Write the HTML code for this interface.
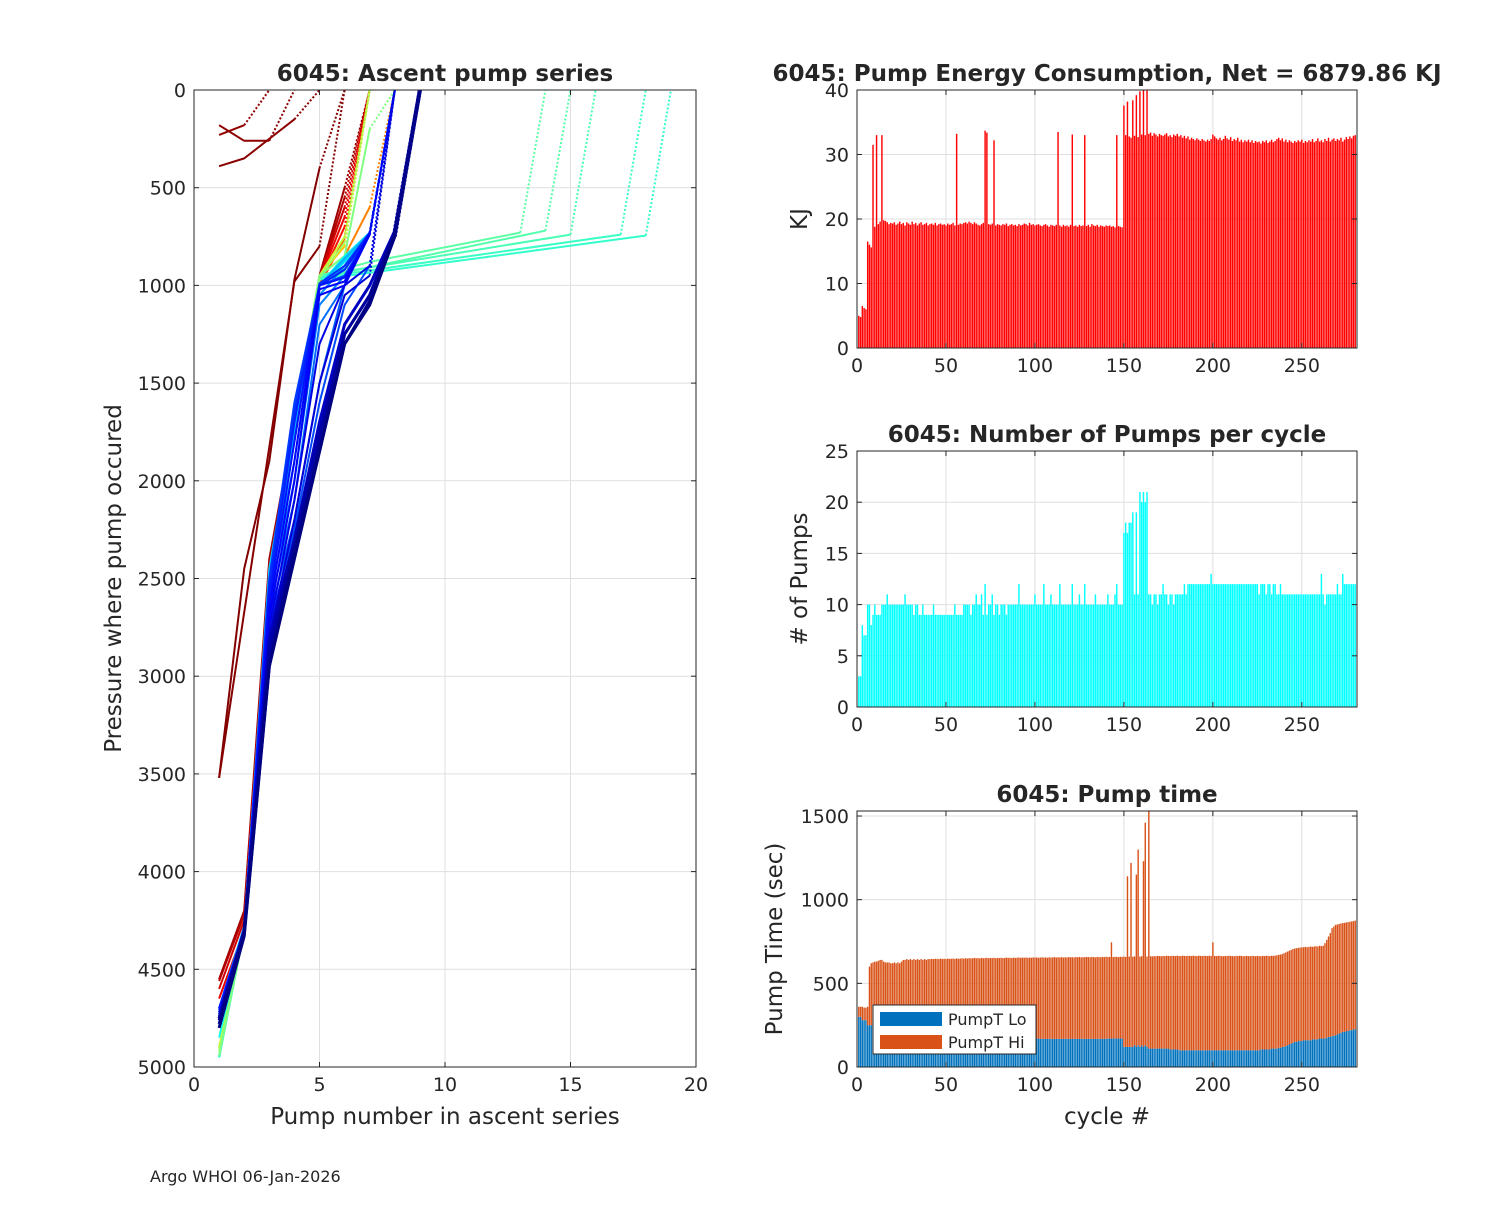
<!DOCTYPE html>
<html><head><meta charset="utf-8"><style>
body{margin:0;background:#fff;}
svg text{font-family:"DejaVu Sans","Liberation Sans",sans-serif;fill:#262626;}
</style></head><body>
<svg id="fig" width="1500" height="1200" viewBox="0 0 1500 1200" xmlns="http://www.w3.org/2000/svg">
<rect width="1500" height="1200" fill="#fff"/>
<text x="150" y="1182" font-size="16">Argo WHOI 06-Jan-2026</text>
</svg>
<script>
// ---------- data ----------
const energyKJ=[5,4.8,6.5,6.2,6,16.5,16,15.6,31.5,18.8,33,19.2,19.6,33,19.8,19.7,19.5,19.2,19.4,19.3,
19.5,19.1,19.3,19.6,19.2,19.4,19.0,19.5,19.3,19.1,19.6,19.2,19.4,19.0,19.3,19.5,19.1,19.2,19.4,19.0,
19.2,19.3,19.1,19.4,19.0,19.2,19.3,19.1,19.2,19.0,19.3,19.1,19.2,19.4,19.0,33.2,19.1,19.3,19.2,19.4,
19.5,19.3,19.6,19.4,19.2,19.5,19.3,19.1,19.0,19.2,19.4,33.7,33.4,19.2,19.1,19.3,32.2,19.0,19.2,19.1,
19.0,19.2,19.1,19.3,18.9,19.1,19.2,19.0,19.1,18.9,19.2,19.0,19.1,19.3,19.2,19.0,19.4,19.1,19.2,19.0,
19.1,19.2,19.0,18.9,19.1,19.2,19.0,18.8,19.1,19.0,18.9,19.1,33.5,19.0,18.8,19.1,18.9,19.0,18.8,19.1,
33.1,18.9,19.0,18.8,19.1,18.9,19.0,33.0,18.9,19.1,18.8,19.2,19.0,18.9,19.1,18.8,19.0,18.9,18.8,19.0,
18.9,19.0,18.8,18.9,18.7,33.0,18.9,18.8,18.7,37.6,33.0,38.2,32.8,32.6,38.4,32.9,39.2,32.7,39.8,33.1,
40,33.0,40,33.2,33.4,32.9,33.3,33.1,32.8,33.2,33.0,32.9,33.1,33.3,32.8,33.0,32.7,33.1,32.9,33.2,
32.8,33.0,32.6,32.9,32.5,32.8,32.3,32.6,32.4,32.2,32.5,32.3,32.1,32.4,32.2,32.0,32.3,32.1,32.4,33.1,
32.8,32.5,32.3,32.6,32.2,32.4,32.9,32.5,32.3,32.7,32.1,32.4,32.2,32.6,32.0,32.3,31.9,32.2,32.0,32.3,
31.9,32.2,31.8,32.1,31.9,32.0,31.7,32.1,31.9,32.2,31.8,32.0,32.3,31.9,32.1,32.4,32.6,32.2,32.5,32.0,
32.3,31.9,32.2,32.0,31.8,32.1,31.9,32.2,32.0,32.3,31.8,32.1,31.9,32.2,32.0,32.4,31.9,32.1,32.5,32.0,
32.2,31.9,32.4,32.1,32.6,32.0,32.3,32.5,32.1,32.4,32.2,32.6,32.0,32.3,32.7,32.4,32.8,32.5,32.9,33.0];
const pumpCount=[3,3,8,7,7,10,10,8,9,10,9,9,9,10,10,10,11,10,10,10,
10,10,10,10,10,10,11,10,10,10,10,9,10,10,9,9,10,9,9,9,
9,9,10,9,9,9,9,9,9,9,9,9,9,9,10,9,9,9,9,10,
10,10,10,9,10,10,11,10,10,11,9,12,9,10,10,11,9,10,10,9,
10,10,10,9,10,10,10,10,10,10,12,10,10,10,10,10,10,10,10,11,
10,10,10,10,12,10,10,10,11,10,10,10,10,12,10,10,10,10,10,10,
12,10,10,10,11,10,10,12,10,10,10,10,10,11,10,10,10,10,10,10,
11,10,10,10,11,12,10,10,10,17,18,17,18,18,19,11,19,11,21,20,
21,20,21,11,11,10,11,11,10,11,11,12,11,11,10,11,11,10,11,11,
11,11,11,12,11,12,12,12,12,12,12,12,12,12,12,12,12,12,13,12,
12,12,12,12,12,12,12,12,12,12,12,12,12,12,12,12,12,12,12,12,
12,12,12,12,12,11,12,12,12,11,12,12,11,12,12,11,11,12,11,11,
11,11,11,11,11,11,11,11,11,11,11,11,11,11,11,11,11,11,11,11,
13,11,10,11,11,11,11,11,11,12,11,11,13,12,12,12,12,12,12,12];
const pumpTimeLo=[300,300,280,280,280,250,250,250,250,240,240,240,240,240,240,240,235,235,235,235,
235,230,230,230,230,230,225,225,225,225,225,220,220,220,220,220,215,215,215,215,
215,210,210,210,210,210,205,205,205,205,200,200,200,200,200,200,195,195,195,195,
195,190,190,190,190,190,185,185,185,185,185,180,180,180,180,180,180,175,175,175,
175,175,175,175,175,175,172,172,172,172,172,170,170,170,170,170,170,170,170,170,
170,170,168,168,168,168,168,168,168,168,168,168,168,168,168,168,168,168,168,168,
168,168,168,168,168,168,168,168,168,168,168,168,168,168,168,168,168,168,168,168,
170,170,170,170,170,170,170,170,170,120,120,120,120,120,120,130,120,130,120,130,
120,130,120,110,110,110,110,110,110,110,110,110,110,110,110,105,105,105,105,105,
100,100,100,100,100,100,100,100,100,100,100,100,100,100,100,100,100,100,100,100,
100,100,100,100,100,100,100,100,100,100,100,100,100,100,100,100,100,100,100,100,
100,100,100,100,100,100,105,105,105,105,105,105,110,110,110,110,115,115,120,120,
125,130,135,140,145,150,150,155,155,155,160,160,160,160,160,165,165,165,165,170,
170,170,170,175,180,180,185,185,190,195,200,205,210,210,215,215,220,220,225,225];
const pumpTimeTotal=[360,360,360,355,355,360,600,620,625,630,630,635,640,640,630,625,625,625,620,620,
625,620,625,620,630,640,640,645,640,645,640,645,640,645,640,645,640,645,640,645,
645,646,645,647,646,645,648,646,647,645,648,646,647,648,646,649,647,648,650,648,
650,648,651,649,650,652,650,651,649,652,650,651,653,650,652,651,653,650,652,651,
653,651,652,654,652,653,651,654,652,653,655,652,654,653,655,652,654,653,655,654,
655,653,654,656,654,655,653,656,654,655,657,654,656,655,657,654,656,655,657,656,
656,655,657,656,658,655,657,656,658,657,656,658,657,655,658,657,656,658,657,659,
657,658,745,657,659,658,657,659,658,660,658,1140,660,1220,659,661,1150,1300,660,662,
1230,1460,660,1530,662,661,663,662,664,663,662,664,663,665,664,663,665,664,663,665,
664,663,665,664,663,665,664,663,665,664,663,665,664,663,665,664,663,665,664,745,
664,663,665,664,663,662,664,663,665,664,663,662,664,663,665,664,662,663,664,663,
662,664,663,662,664,663,662,664,663,665,664,663,665,664,666,668,670,672,675,680,
685,690,695,700,705,708,710,712,714,715,716,718,716,718,720,718,720,722,720,725,
722,725,740,760,780,800,830,840,850,852,855,858,860,862,864,866,868,870,872,875];
// ascent pump series: cycle numbers and [pump#, pressure] profiles (last segment dotted to surface)
const profileCycles=[1,2,3,4,5,8,15,22,30,40,55,70,90,150,152,155,159,161,120,130,140,170,180,190,195,200,205,210,215,220,225,228,232,236,240,244,248,252,256,262,268,272,276,280];
const profilePoints=[
[[1,3520],[2,2450],[3,1900],[4,970],[5,400],[6,0]],
[[1,3520],[4,980],[5,800],[6,0]],
[[1,390],[2,350],[4,150],[5,0]],
[[1,180],[2,260],[3,260],[4,0]],
[[1,230],[2,180],[3,0]],
[[1,4550],[2,4200],[3,2400],[4,1700],[5,950],[6,500],[7,0]],
[[1,4560],[2,4220],[3,2420],[4,1720],[5,960],[6,550],[7,0]],
[[1,4600],[2,4250],[3,2450],[4,1750],[5,960],[6,600],[7,0]],
[[1,4650],[2,4300],[3,2500],[4,1750],[5,970],[6,650],[7,0]],
[[1,4700],[2,4300],[3,2500],[4,1750],[5,980],[6,700],[7,0]],
[[1,4800],[2,4300],[3,2550],[4,1800],[5,1000],[6,760],[7,0]],
[[1,4900],[2,4300],[3,2500],[4,1700],[5,950],[6,850],[7,600],[8,0]],
[[1,4950],[2,4300],[3,2500],[4,1700],[5,950],[6,800],[7,0]],
[[1,4950],[2,4300],[3,2500],[4,1700],[5,950],[7,880],[13,730],[14,0]],
[[1,4950],[2,4300],[3,2500],[4,1700],[5,960],[14,720],[15,0]],
[[1,4950],[2,4300],[3,2500],[4,1700],[5,950],[15,740],[16,0]],
[[1,4950],[2,4300],[3,2500],[4,1700],[5,960],[17,740],[18,0]],
[[1,4950],[2,4300],[3,2500],[4,1700],[5,970],[18,745],[19,0]],
[[1,4900],[2,4300],[3,2500],[4,1700],[5,950],[6,750],[7,0]],
[[1,4920],[2,4300],[3,2500],[4,1700],[5,960],[6,780],[7,0]],
[[1,4940],[2,4300],[3,2500],[4,1700],[5,950],[6,850],[7,200],[8,0]],
[[1,4850],[2,4300],[3,2500],[4,1700],[5,1000],[6,850],[7,730],[8,0]],
[[1,4800],[2,4300],[3,2500],[4,1700],[5,1000],[6,880],[7,740],[8,0]],
[[1,4750],[2,4300],[3,2450],[4,1700],[5,1000],[6,870],[7,730],[8,0]],
[[1,4700],[2,4300],[3,2500],[4,1750],[5,1000],[6,860],[7,730],[8,0]],
[[1,4700],[2,4280],[3,2500],[4,1800],[5,1000],[6,900],[7,740],[8,0]],
[[1,4700],[2,4300],[3,2550],[4,1900],[5,1050],[6,900],[7,730],[8,0]],
[[1,4720],[2,4300],[3,2600],[4,2000],[5,1100],[6,950],[7,730],[8,0]],
[[1,4720],[2,4300],[3,2650],[4,2100],[5,1200],[6,1000],[7,740],[8,0]],
[[1,4730],[2,4300],[3,2700],[4,2200],[5,1500],[6,1000],[7,730],[8,0]],
[[1,4740],[2,4300],[3,2750],[4,2250],[5,1600],[6,1100],[7,900],[8,0]],
[[1,4700],[2,4300],[3,2500],[4,1600],[5,1000],[6,950],[7,740],[8,0]],
[[1,4710],[2,4310],[3,2520],[4,1650],[5,990],[6,900],[7,730],[8,0]],
[[1,4720],[2,4300],[3,2560],[4,1700],[5,1000],[6,920],[7,735],[8,0]],
[[1,4700],[2,4300],[3,2600],[4,1800],[5,1000],[6,960],[7,740],[8,0]],
[[1,4730],[2,4290],[3,2650],[4,1900],[5,1020],[6,980],[7,730],[8,0]],
[[1,4740],[2,4300],[3,2700],[4,2000],[5,1050],[6,1000],[7,740],[8,0]],
[[1,4750],[2,4300],[3,2750],[4,2100],[5,1300],[6,1000],[7,900],[8,0]],
[[1,4750],[2,4300],[3,2800],[4,2200],[5,1500],[6,1050],[7,950],[8,0]],
[[1,4750],[2,4300],[3,2800],[4,2300],[5,1700],[6,1200],[7,1000],[8,720],[9,0]],
[[1,4750],[2,4300],[3,2850],[4,2300],[5,1750],[6,1250],[7,1050],[8,720],[9,0]],
[[1,4760],[2,4300],[3,2900],[4,2350],[5,1800],[6,1250],[7,1050],[8,730],[9,0]],
[[1,4780],[2,4320],[3,2950],[4,2350],[5,1850],[6,1300],[7,1080],[8,740],[9,0]],
[[1,4800],[2,4330],[3,2950],[4,2400],[5,1850],[6,1300],[7,1100],[8,750],[9,0]]];
const leftXTicks=[0,5,10,15,20], leftYTicks=[0,500,1000,1500,2000,2500,3000,3500,4000,4500,5000];
const cycleTicks=[0,50,100,150,200,250];
const energyTicks=[0,10,20,30,40], pumpTicks=[0,5,10,15,20,25], timeTicks=[0,500,1000,1500];

// ---------- helpers ----------
const svg=document.getElementById('fig');
const NS='http://www.w3.org/2000/svg';
function mk(tag,attrs,parent){const e=document.createElementNS(NS,tag);for(const k in attrs)e.setAttribute(k,attrs[k]);(parent||svg).appendChild(e);return e;}
function txt(s,x,y,size,anchor,parent,extra){const t=mk('text',Object.assign({x:x,y:y,'font-size':size,'text-anchor':anchor||'middle'},extra||{}),parent);t.textContent=s;return t;}
function jet(v){const r=Math.max(0,Math.min(1,1.5-Math.abs(4*v-3))),g=Math.max(0,Math.min(1,1.5-Math.abs(4*v-2))),b=Math.max(0,Math.min(1,1.5-Math.abs(4*v-1)));return `rgb(${Math.round(r*255)},${Math.round(g*255)},${Math.round(b*255)})`;}

function axes(name,L,T,R,B,xmin,xmax,ymin,ymax,yrev,xt,yt,title,ylab,xlab){
  const g=mk('g',{},svg);
  
  
  const sx=v=>L+(v-xmin)/(xmax-xmin)*(R-L);
  const sy=v=>yrev?T+(v-ymin)/(ymax-ymin)*(B-T):B-(v-ymin)/(ymax-ymin)*(B-T);
  mk('rect',{x:L,y:T,width:R-L,height:B-T,fill:'#fff'},g);
  const grid=mk('g',{stroke:'#dfdfdf','stroke-width':1},g);
  xt.forEach(v=>{const x=sx(v);mk('line',{x1:x,y1:T,x2:x,y2:B},grid);});
  yt.forEach(v=>{const y=sy(v);mk('line',{x1:L,y1:y,x2:R,y2:y},grid);});
  const plot=mk('g',{},g);
  return {g,plot,sx,sy,finish:()=>{
    const ax=mk('g',{stroke:'#262626','stroke-width':1,fill:'none'},g);
    mk('rect',{x:L,y:T,width:R-L,height:B-T},ax);
    xt.forEach(v=>{const x=sx(v);mk('line',{x1:x,y1:B,x2:x,y2:B-5},ax);mk('line',{x1:x,y1:T,x2:x,y2:T+5},ax);
      const t=txt(String(v),x,B+24,19,'middle',g);});
    yt.forEach(v=>{const y=sy(v);mk('line',{x1:L,y1:y,x2:L+5,y2:y},ax);mk('line',{x1:R,y1:y,x2:R-5,y2:y},ax);
      const t=txt(String(v),L-8,y+7,19,'end',g);});
    const tt=txt(title,(L+R)/2,T-9,23,'middle',g,{'font-weight':'bold','fill':'#000'});
    
    if(ylab){const yl=txt(ylab.s,ylab.x,(T+B)/2,23,'middle',g,{transform:`rotate(-90 ${ylab.x} ${(T+B)/2})`});
      }
    if(xlab){const xl=txt(xlab,(L+R)/2,B+57,23,'middle',g);}
  }};
}

// ---------- left: ascent pump series ----------
const A=axes('ascent-pump-series-chart',194,90,696,1067,0,20,0,5000,true,leftXTicks,leftYTicks,'6045: Ascent pump series',{s:'Pressure where pump occured',x:121},'Pump number in ascent series');
profilePoints.forEach((pts,i)=>{
  const col=jet(1-profileCycles[i]/280);
  const n=pts.length;
  const solid=pts.slice(0,n-1).map(p=>A.sx(p[0])+','+A.sy(p[1])).join(' ');
  const navy=profileCycles[i]>=262;
  const pl=mk('polyline',{points:solid,fill:'none',stroke:col,'stroke-width':navy?3:2,'stroke-linejoin':'round'},A.plot);
  
  
  const a=pts[n-2],b=pts[n-1];
  const dl=mk('line',{x1:A.sx(a[0]),y1:A.sy(a[1]),x2:A.sx(b[0]),y2:A.sy(b[1]),stroke:col,'stroke-width':navy?4:2,'stroke-dasharray':'2,2'},A.plot);
  
  
});
A.finish();

// ---------- bar charts ----------
function bars(ax,vals,base,color,name){
  const w=Math.max(1,(ax.sx(0.8)-ax.sx(0)));
  vals.forEach((v,i)=>{
    const b0=base?base[i]:0;
    const x=ax.sx(i+1)-w/2,y1=ax.sy(b0+v),y0=ax.sy(b0);
    const r=mk('rect',{x:x,y:Math.min(y1,y0),width:w,height:Math.abs(y0-y1),fill:color},ax.plot);
    
    
  });
}
const E=axes('pump-energy-chart',857,90,1357,348,0,281,0,40,false,cycleTicks,energyTicks,'6045: Pump Energy Consumption,  Net = 6879.86 KJ',{s:'KJ',x:807},null);
bars(E,energyKJ.map(v=>Math.min(v,40)),null,'#ff0000','energy-bar');
E.finish();

const P=axes('pumps-per-cycle-chart',857,451,1357,707,0,281,0,25,false,cycleTicks,pumpTicks,'6045: Number of Pumps per cycle',{s:'# of Pumps',x:807},null);
bars(P,pumpCount,null,'#00ffff','pump-count-bar');
P.finish();

const T=axes('pump-time-chart',857,811,1357,1067,0,281,0,1530,false,cycleTicks,timeTicks,'6045: Pump time',{s:'Pump Time (sec)',x:782},'cycle #');
const hi=pumpTimeTotal.map((t,i)=>Math.min(t,1530)-pumpTimeLo[i]);
bars(T,pumpTimeLo,null,'#0072bd','pumpt-lo-bar');
bars(T,hi,pumpTimeLo,'#d95319','pumpt-hi-bar');
T.finish();
// legend
const lg=mk('g',{},svg);


mk('rect',{x:873,y:1005,width:163,height:49,fill:'#fff',stroke:'#262626','stroke-width':1},lg);
mk('rect',{x:880,y:1012,width:62,height:14,fill:'#0072bd'},lg);
mk('rect',{x:880,y:1035,width:62,height:14,fill:'#d95319'},lg);
const l1=txt('PumpT Lo',948,1025,16,'start',lg);


const l2=txt('PumpT Hi',948,1048,16,'start',lg);


</script>
</body></html>
